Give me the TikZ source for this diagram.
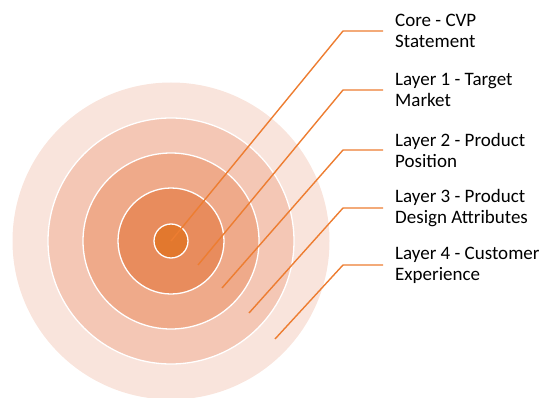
\documentclass[tikz,border=0pt]{standalone}
\usepackage{fontspec}
\setmainfont{Carlito}
\definecolor{ringA}{HTML}{F9E4DC}
\definecolor{ringB}{HTML}{F4C7B5}
\definecolor{ringC}{HTML}{EFAA8A}
\definecolor{ringD}{HTML}{E88C5D}
\definecolor{coreC}{HTML}{E2782E}
\definecolor{leader}{HTML}{ED7D31}
\tikzset{
  ring/.style={circle, inner sep=0pt, draw=white, line width=1.3pt},
  leaderline/.style={draw=leader, line width=1.4pt},
  lbl/.style={anchor=west, inner xsep=12pt, inner ysep=0pt, align=left,
    font=\fontsize{19pt}{21pt}\selectfont, text=black}
}
\begin{document}
\begin{tikzpicture}[x=1pt,y=-1pt]
\useasboundingbox (0,0) rectangle (540,398);
\node[ring, fill=ringA, draw=none, minimum size=317pt] (r4) at (171,241) {};
\node[ring, fill=ringB, minimum size=246pt] (r3) at (171,241) {};
\node[ring, fill=ringC, minimum size=176pt] (r2) at (171,241) {};
\node[ring, fill=ringD, minimum size=106pt] (r1) at (171,241) {};
\node[ring, fill=coreC, minimum size=34pt] (core) at (171,241) {};
\coordinate (s0) at (171,241);
\coordinate (s1) at (198,265);
\coordinate (s2) at (222,288);
\coordinate (s3) at (249,313);
\coordinate (s4) at (275,339);
\coordinate (e0) at (343,31);
\coordinate (e1) at (343,90);
\coordinate (e2) at (343,150);
\coordinate (e3) at (343,208);
\coordinate (e4) at (343,265);
\node[lbl] (l0) at (383,31) {Core - CVP\\Statement};
\node[lbl] (l1) at (383,90) {Layer 1 - Target\\Market};
\node[lbl] (l2) at (383,150) {Layer 2 - Product\\Position};
\node[lbl] (l3) at (383,208) {Layer 3 - Product\\Design Attributes};
\node[lbl] (l4) at (383,265) {Layer 4 - Customer\\Experience};
\draw[leaderline] (s0) -- (e0) -- (l0.west);
\draw[leaderline] (s1) -- (e1) -- (l1.west);
\draw[leaderline] (s2) -- (e2) -- (l2.west);
\draw[leaderline] (s3) -- (e3) -- (l3.west);
\draw[leaderline] (s4) -- (e4) -- (l4.west);
\end{tikzpicture}
\end{document}
